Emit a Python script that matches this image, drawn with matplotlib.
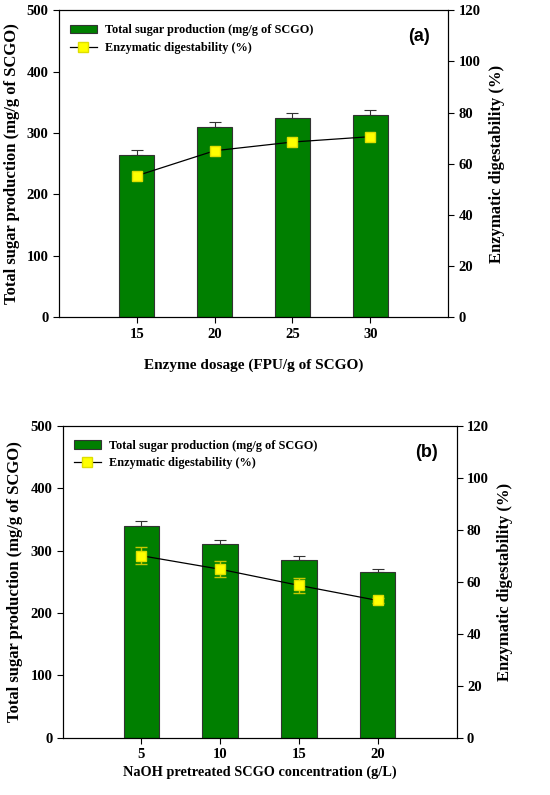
import numpy as np
import matplotlib.pyplot as plt

# panel (a): enzyme dosage
dose_labels = ["15", "20", "25", "30"]
sugar_a = [265, 310, 325, 330]
sugar_a_err = [7, 8, 8, 8]
digest_a = [55.3, 65.1, 68.5, 70.6]

# panel (b): NaOH pretreated SCGO concentration
conc_labels = ["5", "10", "15", "20"]
sugar_b = [340, 310, 285, 265]
sugar_b_err = [7, 7, 6, 5]
digest_b = [70.0, 64.8, 58.6, 52.8]
digest_b_err = [3.2, 3.0, 3.0, 1.0]

serif = "Liberation Serif"
green = "#007f00"
yellow = "#ffff00"

fig = plt.figure(figsize=(5.5, 7.95), dpi=100)


def panel(rect, labels, sugar, sugar_err, digest, digest_err, tag, xlabel, xl_size, xl_pad):
    ax = fig.add_axes(rect)
    x = np.arange(len(labels))
    ax.bar(x, sugar, width=0.45, color=green, edgecolor="#333333", linewidth=0.8,
           label="Total sugar production (mg/g of SCGO)", zorder=2)
    ax.errorbar(x, sugar, yerr=[np.zeros(len(sugar)), sugar_err], fmt="none",
                ecolor="#333333", elinewidth=0.8, capsize=4, capthick=0.8, zorder=1)
    ax.set_xlim(-1, 4)
    ax.set_ylim(0, 500)
    ax.set_xticks(x)
    ax.set_xticklabels(labels)
    ax.set_yticks(range(0, 501, 100))
    ax.tick_params(direction="out", length=4, width=0.8, labelsize=10.5)
    for t in ax.get_xticklabels() + ax.get_yticklabels():
        t.set_fontfamily(serif)
        t.set_fontweight("bold")
    ax.set_ylabel("Total sugar production (mg/g of SCGO)", family=serif,
                  fontweight="bold", fontsize=12, labelpad=5)
    ax.set_xlabel(xlabel, family=serif, fontweight="bold", fontsize=xl_size, labelpad=xl_pad)

    ax2 = ax.twinx()
    ax2.set_ylim(0, 120)
    ax2.set_yticks(range(0, 121, 20))
    if digest_err is not None:
        ax2.errorbar(x, digest, yerr=digest_err, fmt="none", ecolor="#c8c800",
                     elinewidth=1, capsize=4, capthick=1)
    line, = ax2.plot(x, digest, color="black", linewidth=0.9, marker="s", markersize=6.5,
                     markerfacecolor=yellow, markeredgecolor="#dede00",
                     label="Enzymatic digestability (%)")
    ax2.tick_params(direction="out", length=4, width=0.8, labelsize=10.5)
    for t in ax2.get_yticklabels():
        t.set_fontfamily(serif)
        t.set_fontweight("bold")
    ax2.set_ylabel("Enzymatic digestability (%)", family=serif, fontweight="bold",
                   fontsize=12, labelpad=6)

    h1, l1 = ax.get_legend_handles_labels()
    ax.legend(h1 + [line], l1 + [line.get_label()], loc="upper left",
              bbox_to_anchor=(0.0, 0.99), frameon=False, handlelength=2.2,
              handletextpad=0.7, labelspacing=0.45,
              prop={"family": serif, "weight": "bold", "size": 8.8})
    ax.text(0.925, 0.915, tag, transform=ax.transAxes, ha="center", va="center",
            family="Liberation Sans", fontweight="bold", fontsize=13)
    for a in (ax, ax2):
        for s in a.spines.values():
            s.set_linewidth(0.8)
    return ax


panel([0.107, 0.601, 0.708, 0.386], dose_labels, sugar_a, sugar_a_err, digest_a, None,
      "(a)", "Enzyme dosage (FPU/g of SCGO)", 11, 13)
panel([0.114, 0.072, 0.716, 0.3925], conc_labels, sugar_b, sugar_b_err, digest_b, digest_b_err,
      "(b)", "NaOH pretreated SCGO concentration (g/L)", 10.3, 3)

fig.savefig("out.png", dpi=100)
